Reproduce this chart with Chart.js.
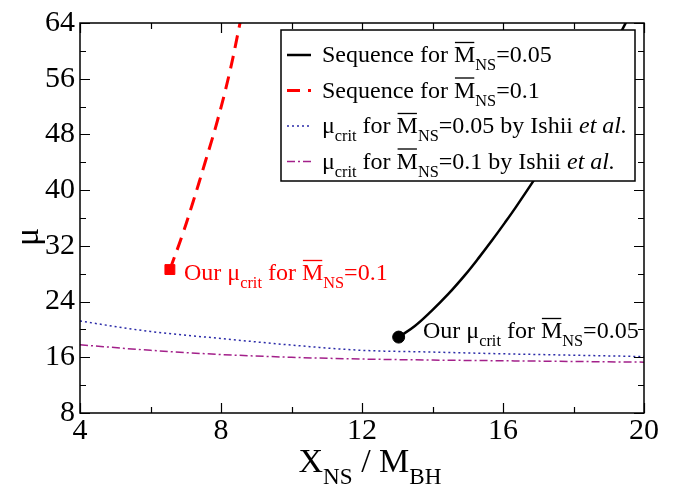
<!DOCTYPE html>
<html>
<head>
<meta charset="utf-8">
<script src="https://cdn.jsdelivr.net/npm/chart.js@4.4.1/dist/chart.umd.min.js"></script>
<style>
    html, body { margin: 0; padding: 0; background: #fff; }
    canvas { display: block; }
</style>
</head>
<body>
<canvas id="muChart" width="681" height="485"></canvas>
<script>
// Sequences and critical mass ratios

const seq005X = [13.04, 13.5, 13.96, 14.45, 14.92, 15.3, 15.69, 16.05, 16.37, 16.94, 17.5, 18.0, 18.5, 19.0, 19.49];
const seq005Y = [18.9, 20.5, 22.6, 25.1, 27.8, 30.2, 32.8, 35.3, 37.6, 41.9, 46.3, 50.3, 54.6, 59.3, 64.1];

const seq01X = [6.55, 6.9, 7.2, 7.55, 7.9, 8.25, 8.54];
const seq01Y = [28.6, 33.5, 38.2, 44.0, 50.0, 57.0, 64.0];

const ishiiX = [4, 6, 8, 10, 12, 14, 16, 18, 20];
const ishii005Y = [21.2, 19.7, 18.7, 17.75, 17.0, 16.75, 16.5, 16.3, 16.1];
const ishii01Y = [17.8, 17.0, 16.4, 16.0, 15.75, 15.6, 15.5, 15.4, 15.3];

const critPoint005 = { x: 13.04, y: 18.9 };
const critPoint01 = { x: 6.55, y: 28.6 };

const xRange = [4, 20];
const yRange = [8, 64];
const xStep = 4;
const yStep = 8;

const SERIF = '"Liberation Serif", "Times New Roman", serif';

const legendItems = [
    { color: '#000000', dash: [], width: 2.5,
      parts: [{ t: 'Sequence for ' }, { t: 'M', over: true }, { t: 'NS', sub: true }, { t: '=0.05' }] },
    { color: '#ff0000', dash: [13, 8], width: 3,
      parts: [{ t: 'Sequence for ' }, { t: 'M', over: true }, { t: 'NS', sub: true }, { t: '=0.1' }] },
    { color: '#2a2aa8', dash: [2, 3], width: 1.5,
      parts: [{ t: '\u03bc' }, { t: 'crit', sub: true }, { t: ' for ' }, { t: 'M', over: true }, { t: 'NS', sub: true },
              { t: '=0.05 by Ishii ' }, { t: 'et al.', it: true }] },
    { color: '#a3208a', dash: [8, 3, 2, 3], width: 1.5,
      parts: [{ t: '\u03bc' }, { t: 'crit', sub: true }, { t: ' for ' }, { t: 'M', over: true }, { t: 'NS', sub: true },
              { t: '=0.1 by Ishii ' }, { t: 'et al.', it: true }] }
];

const note01 = [{ t: 'Our \u03bc' }, { t: 'crit', sub: true }, { t: ' for ' }, { t: 'M', over: true }, { t: 'NS', sub: true }, { t: '=0.1' }];
const note005 = [{ t: 'Our \u03bc' }, { t: 'crit', sub: true }, { t: ' for ' }, { t: 'M', over: true }, { t: 'NS', sub: true }, { t: '=0.05' }];
const xTitle = [{ t: 'X' }, { t: 'NS', sub: true }, { t: ' / M' }, { t: 'BH', sub: true }];

function toPoints(xs, ys) {
    return xs.map((x, i) => ({ x: x, y: ys[i] }));
}

// draws text with subscripts, overlines and italics
function drawRich(ctx, x, y, parts, size, color) {
    ctx.save();
    ctx.fillStyle = color;
    ctx.textAlign = 'left';
    ctx.textBaseline = 'alphabetic';
    let cx = x;
    parts.forEach(p => {
        const s = p.sub ? size * 0.68 : size;
        ctx.font = (p.it ? 'italic ' : '') + s + 'px ' + SERIF;
        const dy = p.sub ? size * 0.34 : 0;
        ctx.fillText(p.t, cx, y + dy);
        const w = ctx.measureText(p.t).width;
        if (p.over) {
            ctx.fillRect(cx + 1, y - size * 0.84, w - 2, Math.max(1.2, size * 0.055));
        }
        cx += w;
    });
    ctx.restore();
    return cx;
}

const framePlugin = {
    id: 'frame',
    afterDatasetsDraw(chart) {
        const ctx = chart.ctx;
        const area = chart.chartArea;
        const xs = chart.scales.x;
        const ys = chart.scales.y;

        ctx.save();
        ctx.strokeStyle = '#000';
        ctx.lineWidth = 1.5;
        ctx.strokeRect(area.left, area.top, area.right - area.left, area.bottom - area.top);

        // inward ticks on all four sides
        ctx.beginPath();
        for (let v = xRange[0]; v <= xRange[1] + 1e-9; v += xStep / 2) {
            const px = Math.round(xs.getPixelForValue(v)) + 0.5;
            const len = (Math.abs((v - xRange[0]) % xStep) < 1e-9) ? 10 : 6;
            ctx.moveTo(px, area.bottom);
            ctx.lineTo(px, area.bottom - len);
            ctx.moveTo(px, area.top);
            ctx.lineTo(px, area.top + len);
        }
        for (let v = yRange[0]; v <= yRange[1] + 1e-9; v += yStep / 2) {
            const py = Math.round(ys.getPixelForValue(v)) + 0.5;
            const len = (Math.abs((v - yRange[0]) % yStep) < 1e-9) ? 10 : 6;
            ctx.moveTo(area.left, py);
            ctx.lineTo(area.left + len, py);
            ctx.moveTo(area.right, py);
            ctx.lineTo(area.right - len, py);
        }
        ctx.lineWidth = 1.2;
        ctx.stroke();

        // legend box
        const lx = 281, ly = 30, lw = 354, lh = 151;
        ctx.fillStyle = '#fff';
        ctx.fillRect(lx, ly, lw, lh);
        ctx.lineWidth = 1.5;
        ctx.strokeStyle = '#000';
        ctx.strokeRect(lx, ly, lw, lh);

        legendItems.forEach((item, i) => {
            const base = 62 + i * 35.5;
            const mid = base - 7;
            ctx.beginPath();
            ctx.setLineDash(item.dash);
            ctx.strokeStyle = item.color;
            ctx.lineWidth = item.width;
            ctx.moveTo(287, mid);
            ctx.lineTo(311, mid);
            ctx.stroke();
            ctx.setLineDash([]);
            drawRich(ctx, 322, base, item.parts, 24, '#000');
        });

        // annotations
        drawRich(ctx, 184, 280, note01, 24, '#ff0000');
        drawRich(ctx, 423, 338, note005, 24, '#000');

        // axis titles
        let titleW = 0;
        xTitle.forEach(p => {
            ctx.font = (p.sub ? 34 * 0.68 : 34) + 'px ' + SERIF;
            titleW += ctx.measureText(p.t).width;
        });
        drawRich(ctx, (area.left + area.right) / 2 - titleW / 2 + 8, 472, xTitle, 34, '#000');

        ctx.translate(29, 237);
        ctx.rotate(-Math.PI / 2);
        ctx.font = '34px ' + SERIF;
        ctx.fillStyle = '#000';
        ctx.textAlign = 'center';
        ctx.textBaseline = 'middle';
        ctx.fillText('\u03bc', 0, 0);
        ctx.restore();
    }
};

function buildChart() {
    const ctx = document.getElementById('muChart');
    return new Chart(ctx, {
        type: 'scatter',
        data: {
            datasets: [
                {
                    label: 'ishii005',
                    data: toPoints(ishiiX, ishii005Y),
                    showLine: true,
                    borderColor: '#2a2aa8',
                    borderWidth: 1.5,
                    borderDash: [2, 3],
                    pointRadius: 0,
                    cubicInterpolationMode: 'monotone'
                },
                {
                    label: 'ishii01',
                    data: toPoints(ishiiX, ishii01Y),
                    showLine: true,
                    borderColor: '#a3208a',
                    borderWidth: 1.5,
                    borderDash: [8, 3, 2, 3],
                    pointRadius: 0,
                    cubicInterpolationMode: 'monotone'
                },
                {
                    label: 'seq005',
                    data: toPoints(seq005X, seq005Y),
                    showLine: true,
                    borderColor: '#000',
                    borderWidth: 2.5,
                    pointRadius: 0,
                    tension: 0.4
                },
                {
                    label: 'seq01',
                    data: toPoints(seq01X, seq01Y),
                    showLine: true,
                    borderColor: '#ff0000',
                    borderWidth: 3,
                    borderDash: [13, 8],
                    pointRadius: 0,
                    tension: 0.4
                },
                {
                    label: 'crit005',
                    data: [critPoint005],
                    pointStyle: 'circle',
                    pointRadius: 6,
                    backgroundColor: '#000',
                    borderColor: '#000'
                },
                {
                    label: 'crit01',
                    data: [critPoint01],
                    pointStyle: 'rect',
                    pointRadius: 7,
                    backgroundColor: '#ff0000',
                    borderColor: '#ff0000'
                }
            ]
        },
        options: {
            responsive: false,
            animation: false,
            devicePixelRatio: 1,
            layout: { padding: { top: 20, right: 37, left: 0, bottom: 0 } },
            plugins: {
                legend: { display: false },
                tooltip: { enabled: false }
            },
            scales: {
                x: {
                    type: 'linear',
                    min: xRange[0],
                    max: xRange[1],
                    grid: { display: false, drawTicks: false },
                    border: { display: false },
                    ticks: {
                        stepSize: xStep,
                        padding: 0,
                        color: '#000',
                        font: { family: SERIF, size: 30 }
                    },
                    afterFit: function(scale) { scale.height = 72; }
                },
                y: {
                    type: 'linear',
                    min: yRange[0],
                    max: yRange[1],
                    grid: { display: false, drawTicks: false },
                    border: { display: false },
                    ticks: {
                        stepSize: yStep,
                        padding: 5,
                        color: '#000',
                        font: { family: SERIF, size: 30 }
                    },
                    afterFit: function(scale) { scale.width = 80; }
                }
            }
        },
        plugins: [framePlugin]
    });
}

document.addEventListener('DOMContentLoaded', function() {
    buildChart();
});
</script>
</body>
</html>
